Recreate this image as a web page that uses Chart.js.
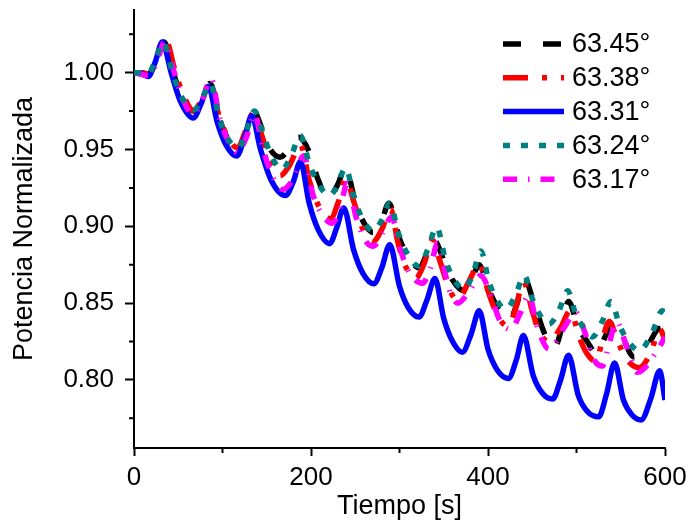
<!DOCTYPE html>
<html><head><meta charset="utf-8">
<script src="https://cdn.jsdelivr.net/npm/chart.js@4"></script>
<style>html,body{margin:0;padding:0;background:#fff}canvas{display:block}</style>
</head><body>
<canvas id="c" width="689" height="526"></canvas>
<script>
const seriesLabels = ['63.45°', '63.38°', '63.31°', '63.24°', '63.17°'];

const tBlack = [0,8,16,25,34,44,54,68,77,86,96,106,118,127,135,145,153,165,175,186,199,207,220,230,239,250,260,270,280,288,300,310,322,331,339,350,360,373,382,390,400,412,424,433,441,452,464,475,483,491,502,512,523,533,541,550,565,580,592,600];
const vBlack = [1.000,1.000,0.999,1.009,1.020,1.001,0.984,0.975,0.983,0.993,0.971,0.957,0.950,0.962,0.975,0.963,0.951,0.945,0.950,0.958,0.947,0.932,0.918,0.927,0.938,0.916,0.902,0.896,0.904,0.915,0.892,0.880,0.873,0.882,0.891,0.878,0.865,0.858,0.866,0.875,0.860,0.846,0.839,0.850,0.866,0.850,0.830,0.821,0.833,0.851,0.834,0.825,0.817,0.829,0.836,0.830,0.815,0.822,0.833,0.834];

const tRed = [0,8,16,25,36,46,56,68,77,86,96,106,117,126,135,145,154,165,176,188,198,208,222,231,239,249,258,270,280,290,298,306,318,328,337,347,355,365,380,390,400,410,422,431,440,450,458,470,482,493,503,512,522,530,537,546,556,571,584,594,600];
const vRed = [1.000,1.000,0.999,1.007,1.021,1.002,0.985,0.975,0.983,0.994,0.972,0.958,0.951,0.962,0.974,0.958,0.941,0.933,0.940,0.953,0.930,0.914,0.905,0.916,0.931,0.915,0.899,0.890,0.898,0.911,0.890,0.875,0.866,0.876,0.891,0.875,0.861,0.852,0.866,0.876,0.858,0.843,0.835,0.846,0.864,0.845,0.831,0.825,0.834,0.845,0.828,0.817,0.812,0.828,0.838,0.826,0.814,0.808,0.818,0.833,0.826];

const tBlue = [0,8,16,24,32,42,52,67,76,84,94,104,116,125,133,143,155,171,180,188,198,208,221,229,237,248,259,271,280,289,300,310,322,331,340,350,360,371,381,390,400,411,423,432,440,451,462,473,482,491,502,513,525,534,543,553,563,573,584,594,600];
const vBlue = [1.000,0.9995,0.9975,1.007,1.020,1.000,0.982,0.9705,0.980,0.991,0.968,0.953,0.9457,0.958,0.972,0.950,0.930,0.920,0.929,0.942,0.915,0.898,0.8887,0.899,0.912,0.885,0.869,0.8626,0.873,0.888,0.861,0.847,0.841,0.852,0.866,0.840,0.825,0.818,0.830,0.845,0.820,0.806,0.801,0.813,0.829,0.803,0.791,0.7876,0.800,0.816,0.790,0.779,0.776,0.791,0.811,0.787,0.777,0.774,0.788,0.806,0.787];

const tTeal = [0,8,16,24,33,43,53,68,77,86,96,106,118,127,136,146,155,167,177,188,198,208,221,230,239,249,258,270,280,289,299,309,322,332,342,352,362,373,383,392,401,410,420,431,441,450,459,469,480,490,499,508,518,529,539,549,560,571,585,597,600];
const vTeal = [1.000,1.000,0.999,1.008,1.020,1.001,0.985,0.976,0.983,0.993,0.971,0.957,0.951,0.962,0.975,0.960,0.946,0.937,0.945,0.959,0.941,0.928,0.920,0.927,0.938,0.918,0.905,0.897,0.904,0.915,0.895,0.882,0.874,0.885,0.8995,0.878,0.865,0.859,0.869,0.884,0.864,0.852,0.846,0.855,0.868,0.853,0.842,0.8365,0.845,0.858,0.843,0.834,0.828,0.838,0.851,0.835,0.824,0.819,0.830,0.845,0.844];

const tMagenta = [0,8,16,25,35,45,55,67,77,87,97,107,117,127,136,146,156,168,180,192,202,212,224,233,241,251,261,270,281,291,301,311,326,335,343,353,358,366,378,392,402,414,426,436,446,456,469,486,499,510,518,529,538,545,556,569,590,600];
const vMagenta = [1.000,0.999,0.998,1.006,1.020,1.001,0.983,0.973,0.982,0.996,0.970,0.955,0.948,0.958,0.973,0.950,0.933,0.924,0.931,0.946,0.921,0.908,0.902,0.912,0.928,0.906,0.891,0.887,0.896,0.906,0.885,0.870,0.863,0.873,0.889,0.866,0.856,0.850,0.857,0.868,0.857,0.838,0.833,0.843,0.855,0.834,0.820,0.834,0.844,0.830,0.815,0.809,0.826,0.838,0.823,0.805,0.818,0.828];

const xTicks = [0, 200, 400, 600];
const yTicks = [0.80, 0.85, 0.90, 0.95, 1.00];
const xMinorTicks = [100, 300, 500];
const yMinorTicks = [0.775, 0.825, 0.875, 0.925, 0.975, 1.025];

const FAM = '"Liberation Sans", Arial, sans-serif';
const pts = (ts, vs) => ts.map((t, i) => ({x: t, y: vs[i]}));

const mk = (label, ts, vs, color, dash, order) => ({
  label, data: pts(ts, vs), borderColor: color, backgroundColor: color,
  borderWidth: 5.5, borderDash: dash, pointRadius: 0, fill: false,
  cubicInterpolationMode: 'monotone', order, borderCapStyle: 'butt'
});

const datasets = [
  mk(seriesLabels[0], tBlack, vBlack, '#000000', [18, 22], 4),
  mk(seriesLabels[1], tRed, vRed, '#ff0000', [25, 14, 5, 14], 3),
  mk(seriesLabels[2], tBlue, vBlue, '#0000ff', [], 2),
  mk(seriesLabels[3], tTeal, vTeal, '#008080', [7, 11], 0),
  mk(seriesLabels[4], tMagenta, vMagenta, '#ff00ff', [14, 11, 1.5, 11], 1)
];

const extras = {
  id: 'extras',
  afterDraw(chart) {
    const {ctx, chartArea: a, scales: {x, y}} = chart;
    ctx.save();
    ctx.strokeStyle = '#000'; ctx.lineWidth = 2; ctx.setLineDash([]);
    ctx.beginPath();
    yMinorTicks.forEach(v => { const py = y.getPixelForValue(v); ctx.moveTo(a.left - 5, py); ctx.lineTo(a.left, py); });
    xMinorTicks.forEach(v => { const px = x.getPixelForValue(v); ctx.moveTo(px, a.bottom); ctx.lineTo(px, a.bottom + 5); });
    ctx.stroke();
    chart.data.datasets.forEach((ds, i) => {
      const yy = a.top + 34 + i * 33.8;
      ctx.setLineDash(ds.borderDash || []);
      ctx.strokeStyle = ds.borderColor; ctx.lineWidth = ds.borderWidth; ctx.lineCap = 'butt';
      ctx.beginPath(); ctx.moveTo(a.right - 162, yy); ctx.lineTo(a.right - 101, yy); ctx.stroke();
      ctx.setLineDash([]);
      ctx.fillStyle = '#000'; ctx.font = '27px ' + FAM; ctx.textBaseline = 'middle'; ctx.textAlign = 'left';
      ctx.fillText(ds.label, a.right - 93, yy + 1);
    });
    ctx.restore();
  }
};

new Chart(document.getElementById('c'), {
  type: 'line',
  data: {datasets},
  plugins: [extras],
  options: {
    responsive: false, animation: false, devicePixelRatio: 1,
    layout: {padding: {top: 10, right: 24, left: 0, bottom: 0}},
    plugins: {legend: {display: false}, tooltip: {enabled: false}},
    scales: {
      x: {
        type: 'linear', min: 0, max: 600,
        afterBuildTicks: s => { s.ticks = xTicks.map(v => ({value: v})); },
        afterFit: s => { s.height = 78; s.paddingLeft = 0; s.paddingRight = 0; s.paddingTop = 0; s.paddingBottom = 0; },
        border: {display: true, color: '#000', width: 2},
        grid: {drawOnChartArea: false, drawTicks: true, tickLength: 8, tickColor: '#000', tickWidth: 2},
        ticks: {color: '#000', font: {family: FAM, size: 26}, padding: 6, maxRotation: 0, callback: v => String(v)},
        title: {display: true, text: 'Tiempo [s]', color: '#000', font: {family: FAM, size: 27}, padding: {top: 0, bottom: 3}}
      },
      y: {
        type: 'linear', min: 0.7557, max: 1.0408,
        afterBuildTicks: s => { s.ticks = yTicks.map(v => ({value: v})); },
        afterFit: s => { s.width = 134; s.paddingLeft = 0; s.paddingRight = 0; s.paddingTop = 0; s.paddingBottom = 0; },
        border: {display: true, color: '#000', width: 2},
        grid: {drawOnChartArea: false, drawTicks: true, tickLength: 9, tickColor: '#000', tickWidth: 2},
        ticks: {color: '#000', font: {family: FAM, size: 26}, padding: 11, callback: v => Number(v).toFixed(2)},
        title: {display: true, text: 'Potencia Normalizada', color: '#000', font: {family: FAM, size: 27}, padding: {top: 8, bottom: 0}}
      }
    }
  }
});
</script>
</body></html>
